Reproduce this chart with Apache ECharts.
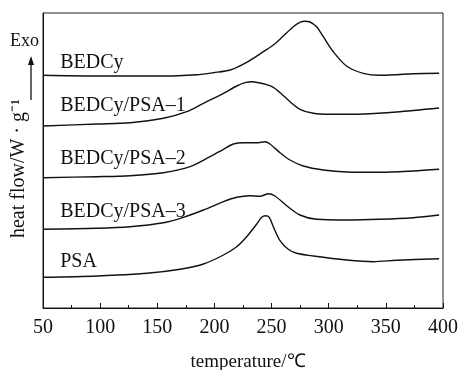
<!DOCTYPE html>
<html>
<head>
<meta charset="utf-8">
<script src="https://cdn.jsdelivr.net/npm/echarts@6/dist/echarts.min.js"></script>
<style>
html,body{margin:0;padding:0;background:#fff;}
#chart{width:461px;height:370px;}
</style>
</head>
<body>
<div id="chart"></div>
<script>
// Series names (top to bottom)
const seriesNames = ['BEDCy', 'BEDCy/PSA–1', 'BEDCy/PSA–2', 'BEDCy/PSA–3', 'PSA'];

// Temperature (°C) and heat flow (a.u., curves stacked with offsets)
const tBEDCy = [50, 97.2, 155.4, 184.5, 199.1, 213.7, 228.2, 242.8, 251.5, 260.3, 269.0, 274.8, 279.2, 283.6, 289.4, 295.2, 304.0, 315.6, 330.2, 344.7, 359.3, 373.9, 396.6];
const hBEDCy = [23.27, 23.2, 23.2, 23.33, 23.53, 23.8, 24.57, 25.63, 26.3, 27.2, 28.13, 28.57, 28.67, 28.6, 28.13, 27.13, 25.63, 24.2, 23.47, 23.27, 23.33, 23.43, 23.47];

const tPSA1 = [50, 97.2, 126.3, 155.4, 175.8, 190.4, 207.9, 219.5, 226.8, 232.6, 239.9, 245.7, 251.5, 258.8, 266.1, 274.8, 286.5, 301.1, 330.2, 359.3, 396.6];
const hPSA1 = [18.2, 18.4, 18.53, 18.97, 19.63, 20.47, 21.47, 22.2, 22.53, 22.63, 22.5, 22.33, 22.07, 21.4, 20.63, 19.87, 19.47, 19.37, 19.4, 19.6, 20.0];

const tPSA2 = [50, 97.2, 126.3, 155.4, 178.7, 196.2, 207.9, 216.6, 225.3, 237.0, 244.3, 248.6, 257.4, 266.1, 277.7, 295.2, 315.6, 344.7, 373.9, 396.6];
const hPSA2 = [13.03, 13.13, 13.23, 13.53, 14.13, 15.13, 15.87, 16.4, 16.53, 16.53, 16.63, 16.4, 15.53, 14.8, 14.2, 13.8, 13.6, 13.57, 13.7, 13.87];

const tPSA3 = [50, 97.2, 126.3, 155.4, 172.9, 190.4, 207.9, 219.5, 231.1, 239.9, 247.2, 253.0, 263.2, 274.8, 289.4, 315.6, 344.7, 373.9, 396.6];
const hPSA3 = [7.87, 7.97, 8.13, 8.53, 9.07, 9.8, 10.63, 11.07, 11.23, 11.17, 11.43, 11.2, 10.23, 9.3, 8.87, 8.8, 8.87, 9.03, 9.3];

const tPSA = [50, 97.2, 140.9, 170.0, 190.4, 207.9, 219.5, 228.2, 237.0, 241.3, 244.8, 248.0, 252.1, 257.4, 264.6, 271.9, 286.5, 315.6, 338.9, 359.3, 396.6];
const hPSA = [3.07, 3.2, 3.47, 3.87, 4.4, 5.3, 6.13, 7.13, 8.4, 9.07, 9.23, 9.07, 7.97, 6.73, 5.87, 5.47, 5.2, 4.8, 4.63, 4.77, 4.93];

// X axis ticks
const xMin = 50, xMax = 400, xStep = 50;
const yMin = 0, yMax = 29.5;

// Curve label anchors (temperature, heat-flow level)
const labelTemp = 65;
const labelLevels = [24.5, 20.25, 14.95, 9.6, 4.6];

const temps = [tBEDCy, tPSA1, tPSA2, tPSA3, tPSA];
const flows = [hBEDCy, hPSA1, hPSA2, hPSA3, hPSA];

const FONT = '"Liberation Serif", "Times New Roman", serif';

const chart = echarts.init(document.getElementById('chart'), null, {renderer: 'canvas'});

const series = seriesNames.map((name, i) => ({
  name: name,
  type: 'line',
  data: temps[i].map((t, j) => [t, flows[i][j]]),
  symbol: 'none',
  smooth: 0.3,
  lineStyle: {color: '#111', width: 1.4},
  silent: true,
  animation: false
}));

chart.setOption({
  animation: false,
  backgroundColor: '#fff',
  grid: {left: 43, right: 18, top: 13, bottom: 62, outerBoundsMode: 'none', containLabel: false,
         show: true, borderColor: '#222', borderWidth: 1, backgroundColor: 'transparent'},
  xAxis: {
    type: 'value', min: xMin, max: xMax, interval: xStep,
    name: 'temperature/℃', nameLocation: 'middle', nameGap: 45,
    nameTextStyle: {fontFamily: FONT, fontSize: 19, color: '#111', padding: [0, 0, 0, 10]},
    axisLine: {show: true, onZero: false, lineStyle: {color: '#111', width: 1}},
    axisTick: {show: true, inside: true, length: 5, lineStyle: {color: '#111'}},
    minorTick: {show: true, splitNumber: 2, length: 3, lineStyle: {color: '#111'}},
    axisLabel: {fontFamily: FONT, fontSize: 20, color: '#111', margin: 10},
    splitLine: {show: false}
  },
  yAxis: {
    type: 'value', min: yMin, max: yMax,
    name: 'heat flow/W · g⁻¹', nameLocation: 'middle', nameGap: 14, nameRotate: 90,
    nameTextStyle: {fontFamily: FONT, fontSize: 20, color: '#111', padding: [0, 16, 0, 0]},
    axisLine: {show: true, onZero: false, lineStyle: {color: '#111', width: 1}},
    axisTick: {show: false},
    axisLabel: {show: false},
    splitLine: {show: false}
  },
  series: series
});

const labelGraphics = seriesNames.map((name, i) => {
  const p = chart.convertToPixel({gridIndex: 0}, [labelTemp, labelLevels[i]]);
  return {
    type: 'text', x: p[0], y: p[1], silent: true,
    style: {text: name, fontFamily: FONT, fontSize: 20, fill: '#111',
            align: 'left', verticalAlign: 'middle', textAlign: 'left', textVerticalAlign: 'middle'}
  };
});

labelGraphics.push({
  type: 'text', x: 10, y: 41, silent: true,
  style: {text: 'Exo', fontFamily: FONT, fontSize: 18, fill: '#111',
          align: 'left', verticalAlign: 'middle', textAlign: 'left', textVerticalAlign: 'middle'}
});
labelGraphics.push({
  type: 'line', silent: true,
  shape: {x1: 31, y1: 100, x2: 31, y2: 62},
  style: {stroke: '#111', lineWidth: 1.3}
});
labelGraphics.push({
  type: 'polygon', silent: true,
  shape: {points: [[31, 56], [28, 65], [34, 65]]},
  style: {fill: '#111'}
});

chart.setOption({graphic: labelGraphics});
</script>
</body>
</html>
